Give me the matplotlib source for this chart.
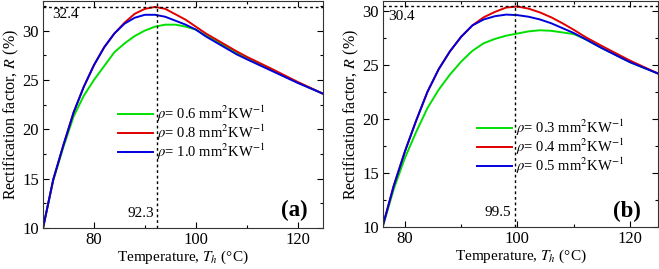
import matplotlib
matplotlib.use("Agg")
import matplotlib.pyplot as plt
from matplotlib.ticker import MultipleLocator

plt.rcParams['font.family'] = ['Liberation Serif', 'DejaVu Serif']
plt.rcParams['mathtext.fontset'] = 'stix'
plt.rcParams['font.size'] = 10.5

# panel (a)
t_a = [70, 72, 74, 76, 78, 80, 82, 84, 86, 88, 90, 92, 94, 96, 98, 100,
       102, 104, 106, 108, 110, 115, 120, 125]
r_a06 = [10.0, 14.8, 18.2, 21.3, 23.4, 25.0, 26.4, 27.8, 28.7, 29.45, 30.0, 30.4,
         30.6, 30.6, 30.4, 30.1, 29.5, 28.95, 28.35, 27.75, 27.2, 26.0, 24.75, 23.6]
r_a08 = [10.0, 14.9, 18.4, 21.7, 24.3, 26.5, 28.3, 29.7, 30.8, 31.7, 32.2, 32.4,
         32.2, 31.65, 31.1, 30.4, 29.7, 29.1, 28.5, 27.9, 27.35, 26.1, 24.8, 23.6]
r_a10 = [10.0, 14.9, 18.4, 21.7, 24.3, 26.5, 28.3, 29.7, 30.7, 31.3, 31.6, 31.6,
         31.4, 31.0, 30.6, 30.1, 29.4, 28.8, 28.2, 27.6, 27.1, 25.9, 24.7, 23.6]

# panel (b)
t_b = [76, 78, 80, 82, 84, 86, 88, 90, 92, 94, 96, 98, 100,
       102, 104, 106, 108, 110, 112, 115, 120, 125]
r_b03 = [9.9, 13.5, 16.4, 18.8, 21.0, 22.7, 24.1, 25.3, 26.3, 27.0, 27.4, 27.7, 27.9,
         28.1, 28.2, 28.15, 28.0, 27.85, 27.4, 26.55, 25.25, 24.2]
r_b04 = [10.0, 13.8, 17.0, 19.85, 22.5, 24.6, 26.25, 27.6, 28.65, 29.4, 29.9, 30.3, 30.4,
         30.2, 29.85, 29.4, 28.85, 28.25, 27.6, 26.75, 25.4, 24.2]
r_b05 = [10.0, 13.8, 17.0, 19.85, 22.5, 24.6, 26.25, 27.6, 28.65, 29.2, 29.5, 29.65, 29.6,
         29.45, 29.2, 28.85, 28.4, 27.95, 27.4, 26.55, 25.25, 24.2]

labels_a = ['0.6', '0.8', '1.0']
labels_b = ['0.3', '0.4', '0.5']
colors = ['#00e000', '#e00000', '#0000dd']

fig = plt.figure(figsize=(6.59, 2.69), dpi=100)
ax1 = fig.add_axes([0.0653, 0.1524, 0.425, 0.844])
ax2 = fig.add_axes([0.5812, 0.156, 0.4173, 0.840])


def style(ax):
    ax.xaxis.set_major_locator(MultipleLocator(20))
    ax.xaxis.set_minor_locator(MultipleLocator(10))
    ax.yaxis.set_major_locator(MultipleLocator(5))
    ax.yaxis.set_minor_locator(MultipleLocator(2.5))
    ax.tick_params(which='both', direction='in', top=True, right=True,
                   labelsize=12)
    ax.tick_params(which='major', length=4, width=0.8, pad=3)
    ax.tick_params(which='minor', length=2.5, width=0.8)
    ax.set_xlabel(r'Temperature, $T_h$ (°C)', fontsize=11, labelpad=0)
    ax.set_ylabel(r'Rectification factor, $R$ (%)', fontsize=11.5, labelpad=1)
    for s in ax.spines.values():
        s.set_color('#333333')


def leg_label(v):
    return r'$\rho$= ' + v + r' mm$^2$KW$^{-1}$'


for series, lab, c in zip([r_a06, r_a08, r_a10], labels_a, colors):
    ax1.plot(t_a, series, color=c, lw=1.4, label=leg_label(lab))
ax1.set_xlim(70, 125)
ax1.set_ylim(10, 33)
ax1.axhline(32.4, color='k', lw=1, ls=(0, (2, 2)))
ax1.axvline(92.3, color='k', lw=1, ls=(0, (2, 2)))
ax1.text(71.8, 31.6, '32.4', va='center', ha='left', fontsize=11)
ax1.text(91.8, 11.5, '92.3', va='center', ha='right', fontsize=11)
ax1.text(119.4, 11.8, '(a)', va='center', ha='center', fontsize=16.5, fontweight='bold')
style(ax1)
ax1.legend(loc='center left', bbox_to_anchor=(0.268, 0.418), frameon=False,
           borderaxespad=0, borderpad=0, handlelength=2.4, handletextpad=0.25,
           labelspacing=-0.08)

for series, lab, c in zip([r_b03, r_b04, r_b05], labels_b, colors):
    ax2.plot(t_b, series, color=c, lw=1.4, label=leg_label(lab))
ax2.set_xlim(76.1, 125)
ax2.set_ylim(10, 30.9)
ax2.axhline(30.4, color='k', lw=1, ls=(0, (2, 2)))
ax2.axvline(99.5, color='k', lw=1, ls=(0, (2, 2)))
ax2.text(77.0, 29.45, '30.4', va='center', ha='left', fontsize=11)
ax2.text(98.8, 11.3, '99.5', va='center', ha='right', fontsize=11)
ax2.text(119.4, 11.4, '(b)', va='center', ha='center', fontsize=16.5, fontweight='bold')
style(ax2)
ax2.legend(loc='center left', bbox_to_anchor=(0.342, 0.354), frameon=False,
           borderaxespad=0, borderpad=0, handlelength=2.4, handletextpad=0.25,
           labelspacing=-0.08)

plt.savefig('out.png', dpi=100)
